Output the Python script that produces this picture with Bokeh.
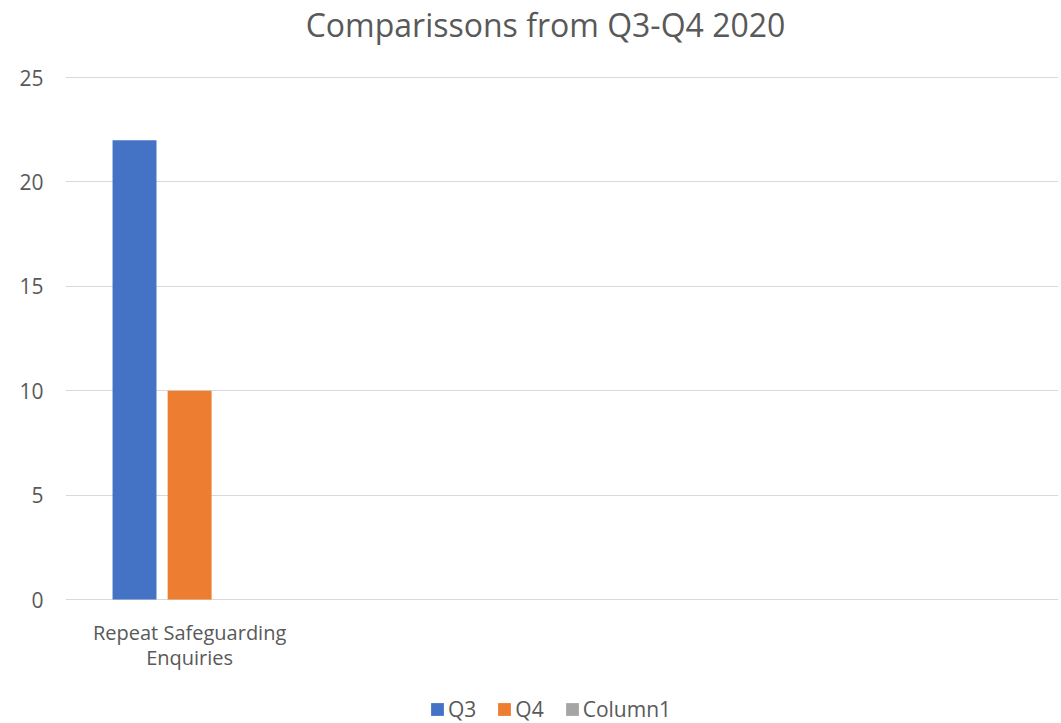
import math
from bokeh.plotting import figure
from bokeh.models import (ColumnDataSource, FixedTicker, Legend, LegendItem, Range1d, Label)
from bokeh.core.properties import value
from bokeh.transform import dodge
from bokeh.embed import file_html
from bokeh.resources import INLINE

title_text = "Comparissons from Q3-Q4 2020"
categories = ["Repeat Safeguarding Enquiries", "", "", ""]
series_names = ["Q3", "Q4", "Column1"]
q3 = [22, math.nan, math.nan, math.nan]
q4 = [10, math.nan, math.nan, math.nan]
column1 = [math.nan, math.nan, math.nan, math.nan]
y_ticks = [0, 5, 10, 15, 20, 25]
colors = ["#4472C4", "#ED7D31", "#A5A5A5"]

FONT = "Open Sans"
GREY = "#595959"

W, H = 1061, 723
LEFT, RIGHT = 65, 3
Y_TOP_PX, Y_ZERO_PX = 77, 599          # pixel rows of the 25 and 0 gridlines
ppu = (Y_ZERO_PX - Y_TOP_PX) / 25.0     # pixels per unit
y_lo = -(H - Y_ZERO_PX) / ppu
y_hi = 25 + Y_TOP_PX / ppu
n = len(categories)
ppx = (W - LEFT - RIGHT) / n            # pixels per category

xs = [i + 0.5 for i in range(n)]
src = ColumnDataSource(dict(x=xs, Q3=q3, Q4=q4, Column1=column1))

p = figure(width=W, height=H, output_backend="svg", toolbar_location=None,
           x_range=Range1d(0, n), y_range=Range1d(y_lo, y_hi),
           min_border_left=LEFT, min_border_right=RIGHT, min_border_bottom=0, min_border_top=0)
p.outline_line_color = None
p.background_fill_color = "white"
p.border_fill_color = "white"
p.xaxis.visible = False

bw = 0.177
offs = [-0.222, 0.0, 0.222]
rends = []
for name, col, off in zip(series_names, colors, offs):
    r = p.vbar(x=dodge("x", off, range=p.x_range), top=name, bottom=0, width=bw, source=src,
               fill_color=col, line_color=None)
    rends.append(r)

# y axis
p.yaxis.ticker = FixedTicker(ticks=y_ticks)
p.yaxis.axis_line_color = None
p.yaxis.major_tick_line_color = None
p.yaxis.major_tick_out = 0
p.yaxis.minor_tick_line_color = None
p.yaxis.major_label_text_font = FONT
p.yaxis.major_label_text_font_size = "21px"
p.yaxis.major_label_text_color = GREY
p.yaxis.major_label_standoff = 22

p.xgrid.grid_line_color = None
p.ygrid.ticker = FixedTicker(ticks=y_ticks)
p.ygrid.grid_line_color = "#D9D9D9"
p.ygrid.grid_line_width = 1

# category labels (two lines)
line1, line2 = [], []
for c in categories:
    words = c.split(" ")
    if len(words) > 2:
        line1.append(" ".join(words[:2]))
        line2.append(" ".join(words[2:]))
    else:
        line1.append(c)
        line2.append("")
lab_src = ColumnDataSource(dict(x=xs, y=[0] * n, l1=line1, l2=line2))
for col, off in (("l1", 33), ("l2", 58)):
    p.text(x="x", y="y", text=col, source=lab_src, y_offset=off, text_align="center",
           text_baseline="middle", text_font=value(FONT), text_font_size="20px",
           text_color=GREY)

# title
title_cx_px = 545
p.add_layout(Label(x=(title_cx_px - LEFT) / ppx, y=y_hi - 24 / ppu, text=title_text,
                   text_align="center", text_baseline="middle", text_font=FONT,
                   text_font_size="32px", text_color=GREY))

legend = Legend(items=[LegendItem(label=nm, renderers=[r]) for nm, r in zip(series_names, rends)],
                orientation="horizontal", location=(364, 0),
                label_text_font=FONT, label_text_font_size="21px", label_text_color=GREY,
                glyph_width=16, glyph_height=16, spacing=20, label_standoff=3,
                border_line_color=None, background_fill_alpha=0, padding=0, margin=0)
p.add_layout(legend, "center")

open("out.html", "w").write(file_html(p, INLINE))
